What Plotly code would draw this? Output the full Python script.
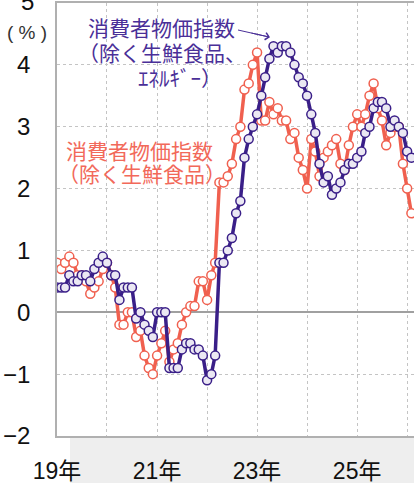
import plotly.graph_objects as go
import pandas as pd

# ---- data (y/y %, monthly, Jan 2019 - Feb 2026) ----
months = pd.date_range("2019-01-01", periods=86, freq="MS")

core = [  # 消費者物価指数（除く生鮮食品）
    0.8, 0.7, 0.8, 0.9, 0.8, 0.6, 0.6, 0.5, 0.3, 0.4, 0.5, 0.7,
    0.8, 0.6, 0.4, -0.2, -0.2, 0.0, 0.0, -0.4, -0.3, -0.7, -0.9, -1.0,
    -0.7, -0.5, -0.3, -0.8, -0.6, -0.5, -0.2, 0.0, 0.1, 0.1, 0.5, 0.5,
    0.2, 0.6, 0.8, 2.1, 2.1, 2.2, 2.4, 2.8, 3.0, 3.6, 3.7, 4.0,
    4.2, 3.1, 3.1, 3.4, 3.2, 3.3, 3.1, 3.1, 2.8, 2.9, 2.5, 2.3,
    2.0, 2.8, 2.6, 2.2, 2.5, 2.6, 2.7, 2.8, 2.4, 2.3, 2.7, 3.0,
    3.2, 3.0, 3.2, 3.5, 3.7, 3.3, 3.1, 2.7, 2.9, 3.0, 3.0, 2.4,
    2.0, 1.6,
]

core_core = [  # 消費者物価指数（除く生鮮食品、エネルギー）
    0.4, 0.4, 0.4, 0.6, 0.5, 0.5, 0.6, 0.6, 0.5, 0.7, 0.8, 0.9,
    0.8, 0.6, 0.6, 0.2, 0.4, 0.4, 0.4, -0.1, 0.0, -0.2, -0.3, -0.4,
    0.0, 0.0, 0.0, -0.9, -0.9, -0.9, -0.6, -0.5, -0.5, -0.6, -0.6, -0.7,
    -1.1, -1.0, -0.7, 0.8, 0.8, 1.0, 1.2, 1.6, 1.8, 2.5, 2.8, 3.0,
    3.2, 3.5, 3.8, 4.1, 4.3, 4.2, 4.3, 4.3, 4.2, 4.0, 3.8, 3.7,
    3.5, 3.2, 2.9, 2.4, 2.1, 2.2, 1.9, 2.0, 2.1, 2.3, 2.4, 2.4,
    2.5, 2.6, 2.9, 3.0, 3.3, 3.4, 3.4, 3.3, 3.0, 3.1, 3.0, 2.9,
    2.6, 2.5,
]

year_ticks = pd.date_range("2019-01-01", "2026-01-01", freq="YS")
year_labels = ["19年", "", "21年", "", "23年", "", "25年", ""]
y_ticks = [-2, -1, 0, 1, 2, 3, 4, 5]

RED = "#f0604f"
PURPLE = "#3a1f88"
RED_TXT = "#f2695a"
PURPLE_TXT = "#4a2f98"

W, H = 414, 483
L, R, T, B = 57, 0, 3, 47
PW, PH = W - L - R, H - T - B


def px(xp):
    return (xp - L) / PW


def py(yp):
    return (H - B - yp) / PH


fig = go.Figure()

fig.add_trace(go.Scatter(
    x=months, y=core, mode="lines+markers",
    line=dict(color=RED, width=3.5),
    marker=dict(symbol="circle", size=9, color="white",
                line=dict(color=RED, width=1.5)),
    cliponaxis=True, showlegend=False,
))
fig.add_trace(go.Scatter(
    x=months, y=core_core, mode="lines+markers",
    line=dict(color=PURPLE, width=3.5),
    marker=dict(symbol="circle", size=9, color="#ebe8f3",
                line=dict(color=PURPLE, width=1.5)),
    cliponaxis=True, showlegend=False,
))

FONT = "Liberation Sans, Arial, Noto Sans CJK JP, sans-serif"
CJK = "Noto Sans CJK JP, sans-serif"

fig.update_layout(
    width=W, height=H,
    margin=dict(l=L, r=R, t=T, b=B, autoexpand=False),
    paper_bgcolor="white", plot_bgcolor="white",
    font=dict(family=FONT, color="#111111"),
    showlegend=False,
    xaxis=dict(
        type="date",
        range=["2019-01-01", "2026-02-20"],
        tickmode="array", tickvals=year_ticks, ticktext=year_labels,
        tickfont=dict(size=23, family=FONT, color="#111111"),
        ticks="", ticklabelstandoff=14,
        showgrid=True, gridcolor="#c4c4c4", griddash="dot", gridwidth=1,
        showline=True, linecolor="#b0b0b0", linewidth=1.5, mirror=True,
        zeroline=False,
    ),
    yaxis=dict(
        range=[-2, 5],
        tickmode="array", tickvals=y_ticks,
        tickfont=dict(size=24, family=FONT, color="#111111"),
        ticks="", ticklabelstandoff=20,
        showgrid=True, gridcolor="#c4c4c4", griddash="dot", gridwidth=1,
        showline=True, linecolor="#b0b0b0", linewidth=1.5,
        zeroline=True, zerolinecolor="#a0a0a0", zerolinewidth=1.5,
    ),
)

# grey band under the x axis
fig.add_shape(type="rect", xref="paper", yref="paper",
              x0=px(70), x1=px(420), y0=py(490), y1=py(437.5),
              fillcolor="#eeeeee", line=dict(width=0), layer="below")

# top tick label "5" (partly cut at the top edge, as in the source)
fig.add_annotation(xref="paper", yref="paper", x=px(36), y=py(2),
                   text="5", showarrow=False,
                   font=dict(size=24, family=FONT, color="#111111"),
                   xanchor="right", yanchor="middle")

# (%) unit label
fig.add_annotation(xref="paper", yref="paper", x=px(27), y=py(32),
                   text="( % )", showarrow=False,
                   font=dict(size=19, family=FONT, color="#333333"),
                   xanchor="center", yanchor="middle")

# purple label
for txt, xl, yc in [("消費者物価指数", 86, 27),
                    ("（除く生鮮食品、", 76, 52),
                    ("ｴﾈﾙｷﾞｰ）", 136, 77)]:
    fig.add_annotation(xref="paper", yref="paper", x=px(xl), y=py(yc),
                       text=txt, showarrow=False,
                       font=dict(size=21, family=CJK, color=PURPLE_TXT),
                       xanchor="left", yanchor="middle")

# arrow for purple label: shaft + head
fig.add_shape(type="line", xref="paper", yref="paper",
              x0=px(238), y0=py(30), x1=px(269), y1=py(37),
              line=dict(color=PURPLE_TXT, width=1))
fig.add_annotation(xref="paper", yref="paper", x=px(270), y=py(37.2),
                   ax=-20, ay=-4.5, text="", showarrow=True,
                   arrowhead=4, arrowsize=1.4, arrowwidth=1,
                   arrowcolor=PURPLE_TXT, standoff=0, startstandoff=0)

# red label
for txt, xl, yc in [("消費者物価指数", 64, 150),
                    ("（除く生鮮食品）", 56, 173)]:
    fig.add_annotation(xref="paper", yref="paper", x=px(xl), y=py(yc),
                       text=txt, showarrow=False,
                       font=dict(size=21, family=CJK, color=RED_TXT),
                       xanchor="left", yanchor="middle")

fig.write_html(
    "out.html",
    config={"displayModeBar": False},
    post_script="document.body.style.margin='0';document.body.style.overflow='hidden';",
)
